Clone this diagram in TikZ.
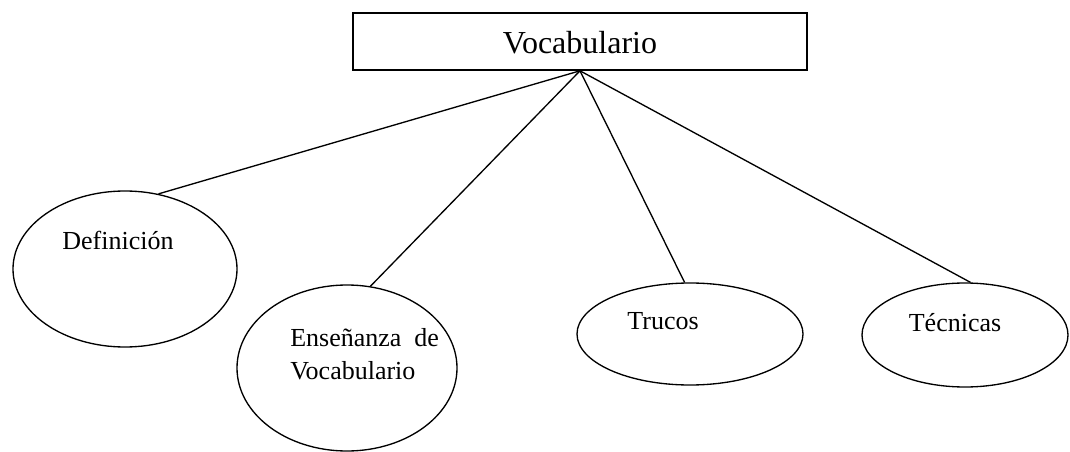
\documentclass[tikz,border=0pt]{standalone}
\usepackage{fontspec}
\setmainfont{Liberation Serif}
\usetikzlibrary{shapes.geometric, positioning}

\begin{document}
\begin{tikzpicture}[
        x=0.75pt, y=-0.75pt,
        topbox/.style={rectangle, draw, line width=1.2pt, minimum width=340.5pt, minimum height=42.75pt, inner sep=0pt, font=\fontsize{24}{28}\selectfont},
        bubble/.style={ellipse, draw, line width=1pt, inner sep=0pt},
        txt/.style={font=\fontsize{19.5}{25}\selectfont, inner sep=0pt},
        link/.style={line width=1pt}
    ]
    \useasboundingbox (0,0) rectangle (1070,452);

    \node[topbox] (vocab) at (580,41.5) {};
    \node[font=\fontsize{24}{28}\selectfont, inner sep=0pt] (vocabtxt) at (580,43) {Vocabulario};

    \node[bubble, minimum width=168pt, minimum height=117pt] (def) at (125,269) {};
    \node[bubble, minimum width=165pt, minimum height=124.5pt] (ens) at (347,368) {};
    \node[bubble, minimum width=169.5pt, minimum height=76.5pt] (tru) at (690,334) {};
    \node[bubble, minimum width=154.5pt, minimum height=78pt] (tec) at (965,335) {};

    \node[txt] (deftxt) at (118,240) {Definición};
    \node[txt, anchor=west, align=left] (enstxt) at (290,354) {Enseñanza\ \ de\\Vocabulario};
    \node[txt] (trutxt) at (663,321) {Trucos};
    \node[txt] (tectxt) at (955,323) {Técnicas};

    \draw[link] (vocab.south) -- (def.66);
    \draw[link] (vocab.south) -- (ens.74);
    \draw[link] (vocab.south) -- (tru.96);
    \draw[link] (vocab.south) -- (tec.84);
\end{tikzpicture}
\end{document}
